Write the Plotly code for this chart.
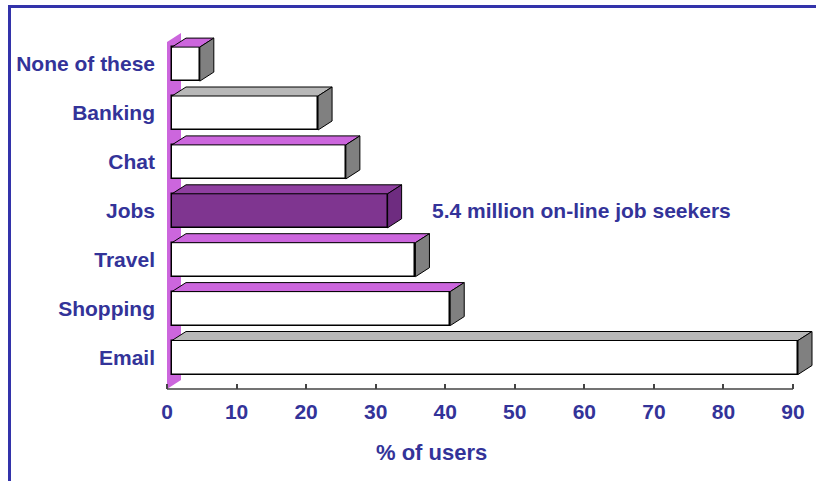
import plotly.graph_objects as go

# ---------------- data ----------------
categories = ["Email", "Shopping", "Travel", "Jobs", "Chat", "Banking", "None of these"]
values = [90, 40, 35, 31, 25, 21, 4]
x_tick_values = [0, 10, 20, 30, 40, 50, 60, 70, 80, 90]
x_title = "% of users"
note_text = "5.4 million on-line job seekers"
highlight = "Jobs"

# ---------------- style / geometry ----------------
W, H = 816, 481
L, R, T, B = 160, 0, 20, 92
plot_w = W - L - R
plot_h = H - T - B
px_per_x = 626 / 90          # pixels per % unit
px_per_y = 48.9              # pixels per category step
x0_px = 167                  # pixel of value 0
xmin = -(x0_px - L) / px_per_x
xmax = xmin + plot_w / px_per_x
ymin = -31.5 / px_per_y
ymax = ymin + plot_h / px_per_y

bar_h = 34 / px_per_y
dx = 14 / px_per_x
dy = 9 / px_per_y
off = 5 / px_per_x

TEXT = "#333399"
WALL = "#cc66dd"
HI = "#7f3590"
HI_TOP = "#8f3fa0"
HI_SIDE = "#6e2c80"
SIDE = "#808080"
FONT = "Liberation Sans, Arial, sans-serif"

pos = list(range(len(categories)))
front_colors = [HI if c == highlight else "white" for c in categories]
top_colors = []
for c in categories:
    if c == highlight:
        top_colors.append(HI_TOP)
    elif c in ("Email", "Banking"):
        top_colors.append("#b8b8b8")
    else:
        top_colors.append(WALL)
side_colors = [HI_SIDE if c == highlight else SIDE for c in categories]

fig = go.Figure()

# front faces
fig.add_trace(go.Bar(
    y=pos, x=values, base=off, orientation="h", width=bar_h,
    marker=dict(color=front_colors, line=dict(color="black", width=1.5)),
    hoverinfo="skip", showlegend=False,
))

# top and side faces
for p, v, tc, sc in zip(pos, values, top_colors, side_colors):
    yt = p + bar_h / 2
    yb = p - bar_h / 2
    x1 = off + v
    fig.add_trace(go.Scatter(
        x=[off, x1, x1 + dx, off + dx, off],
        y=[yt, yt, yt + dy, yt + dy, yt],
        fill="toself", fillcolor=tc, mode="lines",
        line=dict(color="black", width=1), hoverinfo="skip", showlegend=False,
    ))
    fig.add_trace(go.Scatter(
        x=[x1, x1 + dx, x1 + dx, x1, x1],
        y=[yb, yb + dy, yt + dy, yt, yb],
        fill="toself", fillcolor=sc, mode="lines",
        line=dict(color="black", width=1), hoverinfo="skip", showlegend=False,
    ))

# left wall (3D) below the bars
wall_top = len(categories) - 1 + 0.45
wall_path = (f"M 0 {ymin} L 0 {wall_top} L {dx} {wall_top + dy} "
             f"L {dx} {ymin + dy} Z")
shapes = [
    dict(type="path", path=wall_path, xref="x", yref="y", layer="below",
         fillcolor=WALL, line=dict(color=WALL, width=0)),
    # axis line
    dict(type="line", xref="x", yref="paper", x0=0, x1=x_tick_values[-1], y0=0, y1=0,
         line=dict(color="#444444", width=1.5)),
]

# frame lines (top and left) in paper coords from pixel positions
def px_x(px):
    return (px - L) / plot_w

def px_y(py):
    return (H - B - py) / plot_h

shapes.append(dict(type="line", xref="paper", yref="paper",
                   x0=px_x(9), x1=px_x(W), y0=px_y(6.5), y1=px_y(6.5),
                   line=dict(color="#3333aa", width=3)))
shapes.append(dict(type="line", xref="paper", yref="paper",
                   x0=px_x(9.5), x1=px_x(9.5), y0=px_y(5), y1=px_y(H),
                   line=dict(color="#3333aa", width=3)))

hi_idx = categories.index(highlight)
annotations = [
    dict(x=values[hi_idx] + off + dx + 28 / px_per_x, y=pos[hi_idx], xref="x", yref="y",
         text=note_text, showarrow=False, xanchor="left", yanchor="middle",
         font=dict(family=FONT, size=21, color=TEXT, weight="bold")),
    dict(x=38, y=0, xref="x", yref="paper", yshift=-63,
         text=x_title, showarrow=False, xanchor="center", yanchor="middle",
         font=dict(family=FONT, size=22, color=TEXT, weight="bold")),
]

fig.update_layout(
    width=W, height=H,
    margin=dict(l=L, r=R, t=T, b=B),
    paper_bgcolor="white", plot_bgcolor="white",
    shapes=shapes, annotations=annotations,
    bargap=0,
    xaxis=dict(range=[xmin, xmax], tickvals=x_tick_values, showgrid=False, zeroline=False,
               showline=False, ticks="inside", ticklen=5, tickwidth=1.5, tickcolor="#444444",
               ticklabelstandoff=8,
               tickfont=dict(family=FONT, size=21, color=TEXT, weight="bold")),
    yaxis=dict(range=[ymin, ymax], tickvals=pos, ticktext=categories, showgrid=False,
               zeroline=False, showline=False, ticks="", ticklabelstandoff=4,
               tickfont=dict(family=FONT, size=21, color=TEXT, weight="bold")),
)

fig.write_html(
    "out.html",
    config={"displayModeBar": False},
    post_script="document.body.style.margin='0';document.body.style.overflow='hidden';",
)
